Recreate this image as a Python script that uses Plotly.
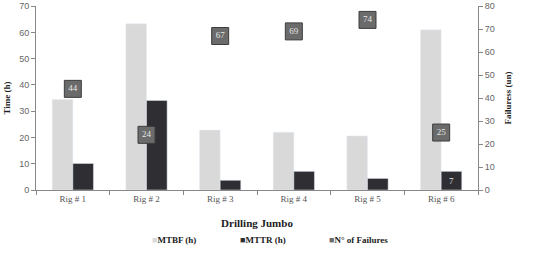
import plotly.graph_objects as go

rigs = ["Rig # 1", "Rig # 2", "Rig # 3", "Rig # 4", "Rig # 5", "Rig # 6"]
mtbf = [34.5, 63.3, 22.8, 22.0, 20.6, 61.0]
mttr = [10.1, 34.1, 3.7, 7.1, 4.4, 7.1]
failures = [44, 24, 67, 69, 74, 25]
mttr_labels = ["", "", "", "", "", "7"]
series_names = ["MTBF (h)", "MTTR (h)", "N° of Failures"]
series_colors = ["#d9d9d9", "#2e2e33", "#6b6b6b"]

serif = "Liberation Serif"
sans = "Liberation Sans"

fig = go.Figure()
fig.add_trace(go.Bar(x=rigs, y=mtbf, name=series_names[0], marker=dict(color=series_colors[0]), yaxis="y"))
fig.add_trace(go.Bar(x=rigs, y=mttr, name=series_names[1], marker=dict(color=series_colors[1]), yaxis="y",
                     text=mttr_labels, textposition="inside", insidetextanchor="middle",
                     textfont=dict(family=serif, size=9, color="#e8e8e8")))
fig.add_trace(go.Scatter(x=rigs, y=failures, name=series_names[2], yaxis="y2",
                         mode="markers+text", text=[str(v) for v in failures],
                         textposition="middle center",
                         textfont=dict(family=serif, size=9, color="#e6e6e6"),
                         marker=dict(symbol="square", size=17, color=series_colors[2],
                                     line=dict(color="#3d3d3d", width=1))))

# legend built as annotations (small square + bold label)
legend_x = [0.258, 0.458, 0.658]
for name, col, lx in zip(series_names, series_colors, legend_x):
    fig.add_annotation(xref="paper", yref="paper", x=lx, y=-0.27, xanchor="left", yanchor="middle",
                       showarrow=False,
                       text=f'<span style="color:{col}">■</span><b>{name}</b>',
                       font=dict(family=serif, size=9, color="#222"))

fig.update_layout(
    width=535, height=254,
    margin=dict(l=36, r=57, t=6, b=64),
    plot_bgcolor="white", paper_bgcolor="white",
    barmode="group", bargap=0.44, bargroupgap=0,
    showlegend=False,
    xaxis=dict(showline=True, linecolor="#888", linewidth=1, ticks="outside", automargin=False,
               tickson="boundaries", ticklen=4, tickcolor="#888",
               tickfont=dict(family=serif, size=9, color="#555"),
               title=dict(text="<b>Drilling Jumbo</b>", font=dict(family=serif, size=11, color="#222"), standoff=16)),
    yaxis=dict(range=[0, 70.05], dtick=10, showgrid=False, showline=True, linecolor="#888", automargin=False,
               ticks="outside", ticklen=4, tickcolor="#888", zeroline=False, ticklabeloverflow="allow",
               tickfont=dict(family=sans, size=9, color="#666"),
               title=dict(text="<b>Time (h)</b>", font=dict(family=serif, size=9, color="#222"), standoff=7)),
    yaxis2=dict(range=[0, 80.05], dtick=10, overlaying="y", side="right", showgrid=False, automargin=False,
                showline=True, linecolor="#888", ticks="outside", ticklen=4, tickcolor="#888",
                zeroline=False, tickfont=dict(family=sans, size=9, color="#666"), ticklabeloverflow="allow",
                title=dict(text="<b>Failuress (un)</b>", font=dict(family=serif, size=9, color="#222"), standoff=10)),
)

fig.write_html("out.html")
